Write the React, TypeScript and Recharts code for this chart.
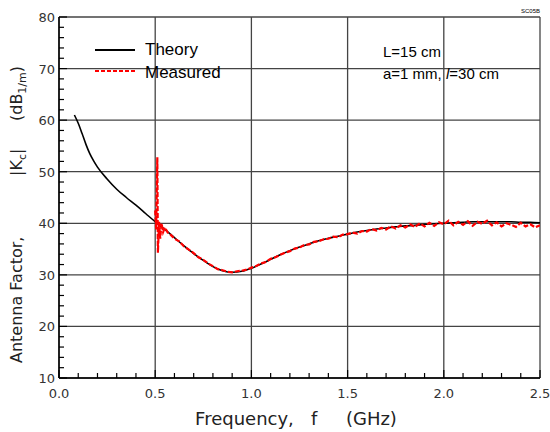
import React from 'react';
import { LineChart, Line, XAxis, YAxis, CartesianGrid } from 'recharts';

// ---------------------------------------------------------------------------
// Data
// ---------------------------------------------------------------------------

const theoryFreq = [
  0.08, 0.1, 0.12, 0.14, 0.16, 0.18, 0.2, 0.25, 0.3, 0.35, 0.4, 0.45, 0.5,
  0.55, 0.6, 0.65, 0.7, 0.75, 0.8, 0.85, 0.9, 0.95, 1.0, 1.05, 1.1, 1.15,
  1.2, 1.25, 1.3, 1.35, 1.4, 1.45, 1.5, 1.55, 1.6, 1.65, 1.7, 1.75, 1.8,
  1.85, 1.9, 1.95, 2.0, 2.05, 2.1, 2.15, 2.2, 2.25, 2.3, 2.35, 2.4, 2.45, 2.5,
];
const theoryK = [
  61.0, 59.4, 57.4, 55.3, 53.5, 52.1, 50.9, 48.6, 46.6, 45.0, 43.5, 41.9, 40.3,
  38.8, 37.2, 35.6, 34.1, 32.8, 31.6, 30.8, 30.5, 30.7, 31.3, 32.1, 33.0, 33.9,
  34.7, 35.4, 36.0, 36.6, 37.1, 37.5, 37.9, 38.3, 38.6, 38.9, 39.1, 39.3, 39.5,
  39.6, 39.8, 39.9, 40.0, 40.1, 40.2, 40.3, 40.3, 40.3, 40.3, 40.3, 40.2, 40.2, 40.1,
];

const measuredFreq = [
  0.5, 0.505, 0.511, 0.514, 0.52, 0.526, 0.533, 0.541, 0.55, 0.565, 0.58,
  0.6, 0.625, 0.65, 0.675, 0.7, 0.725, 0.75, 0.775, 0.8, 0.825, 0.85, 0.875,
  0.9, 0.925, 0.95, 0.975, 1.0, 1.025, 1.05, 1.075, 1.1, 1.125, 1.15, 1.175,
  1.2, 1.225, 1.25, 1.275, 1.3, 1.325, 1.35, 1.375, 1.4, 1.425, 1.45, 1.475,
  1.5, 1.525, 1.55, 1.575, 1.6, 1.625, 1.65, 1.675, 1.7, 1.725, 1.75, 1.775,
  1.8, 1.825, 1.85, 1.875, 1.9, 1.925, 1.95, 1.975, 2.0, 2.025, 2.05, 2.075,
  2.1, 2.125, 2.15, 2.175, 2.2, 2.225, 2.25, 2.275, 2.3, 2.325, 2.35, 2.375,
  2.4, 2.425, 2.45, 2.475, 2.5,
];
const measuredK = [
  42.5, 38.8, 52.8, 34.3, 40.3, 37.0, 40.0, 38.3, 39.2, 38.2, 37.8,
  37.0, 36.5, 35.5, 34.9, 34.2, 33.4, 32.9, 32.2, 31.7, 31.1, 30.9, 30.6,
  30.5, 30.7, 30.8, 31.0, 31.4, 31.7, 32.2, 32.5, 33.1, 33.4, 33.9, 34.3,
  34.6, 35.1, 35.3, 35.8, 35.9, 36.4, 36.5, 36.9, 37.0, 37.4, 37.3, 37.8,
  37.9, 38.2, 38.0, 38.5, 38.4, 38.9, 38.6, 39.1, 38.8, 39.4, 39.0, 39.6,
  39.2, 39.8, 39.3, 40.0, 39.4, 40.1, 39.5, 40.2, 39.8, 40.5, 39.6, 40.3,
  39.7, 40.4, 39.5, 40.3, 39.9, 40.5, 39.6, 40.2, 39.4, 40.0, 39.7, 39.3,
  40.1, 39.4, 39.8, 39.2, 39.6,
];

const xTicks = [
  0, 0.1, 0.2, 0.3, 0.4, 0.5, 0.6, 0.7, 0.8, 0.9, 1.0, 1.1, 1.2, 1.3, 1.4,
  1.5, 1.6, 1.7, 1.8, 1.9, 2.0, 2.1, 2.2, 2.3, 2.4, 2.5,
];
const xMajor = [0, 0.5, 1.0, 1.5, 2.0, 2.5];
const yTicks = [
  10, 12, 14, 16, 18, 20, 22, 24, 26, 28, 30, 32, 34, 36, 38, 40, 42, 44, 46,
  48, 50, 52, 54, 56, 58, 60, 62, 64, 66, 68, 70, 72, 74, 76, 78, 80,
];
const yMajor = [10, 20, 30, 40, 50, 60, 70, 80];

const theoryData = theoryFreq.map((f, i) => ({ f, k: theoryK[i] }));
const measuredData = measuredFreq.map((f, i) => ({ f, k: measuredK[i] }));

// ---------------------------------------------------------------------------
// Helpers
// ---------------------------------------------------------------------------

const TICK_FONT = '"DejaVu Sans", sans-serif';
const LABEL_FONT = '"Liberation Sans", Arial, sans-serif';

function isMajor(v: number, majors: number[]) {
  return majors.some((m) => Math.abs(m - v) < 1e-6);
}

/**
 * Inward pointing tick, with optional label
 */
function InTick(props: any) {
  const { x, y, payload, side } = props;
  const v = payload.value as number;
  const major = isMajor(v, side === 'left' || side === 'right' ? yMajor : xMajor);
  const len = major ? 8 : 5;
  const line = {
    bottom: [x, y, x, y - len],
    top: [x, y, x, y + len],
    left: [x, y, x + len, y],
    right: [x, y, x - len, y],
  }[side as string] as number[];

  return (
    <g>
      <line x1={line[0]} y1={line[1]} x2={line[2]} y2={line[3]} stroke="#000" strokeWidth={1.2} />
      {major && side === 'bottom' && (
        <text x={x} y={y + 20} textAnchor="middle" fontFamily={TICK_FONT} fontSize={13} fill="#333">
          {v.toFixed(1)}
        </text>
      )}
      {major && side === 'left' && (
        <text x={x - 4} y={y + 5} textAnchor="end" fontFamily={TICK_FONT} fontSize={13} fill="#333">
          {v}
        </text>
      )}
    </g>
  );
}

// ---------------------------------------------------------------------------
// Component
// ---------------------------------------------------------------------------

export default function App() {
  return (
    <div style={{ position: 'absolute', left: 0, top: 0, width: 550, height: 432, background: '#fff' }}>
      <LineChart
        width={550}
        height={432}
        margin={{ top: 17, right: 10, left: 0, bottom: 0 }}
      >
        <CartesianGrid
          stroke="#444"
          strokeWidth={1.3}
          horizontalValues={yMajor}
          verticalValues={xMajor}
        />
        <XAxis
          dataKey="f"
          type="number"
          domain={[0, 2.5]}
          ticks={xTicks}
          interval={0}
          height={54}
          tickSize={0}
          tickMargin={0}
          tickLine={false}
          axisLine={{ stroke: '#000', strokeWidth: 1.5 }}
          tick={<InTick side="bottom" />}
          allowDataOverflow
        />
        <XAxis
          xAxisId="t"
          orientation="top"
          dataKey="f"
          type="number"
          domain={[0, 2.5]}
          ticks={xTicks}
          interval={0}
          height={0}
          tickSize={0}
          tickMargin={0}
          tickLine={false}
          axisLine={{ stroke: '#000', strokeWidth: 1.5 }}
          tick={<InTick side="top" />}
        />
        <YAxis
          type="number"
          domain={[10, 80]}
          ticks={yTicks}
          interval={0}
          width={59}
          tickSize={0}
          tickMargin={0}
          tickLine={false}
          axisLine={{ stroke: '#000', strokeWidth: 1.5 }}
          tick={<InTick side="left" />}
          allowDataOverflow
        />
        <YAxis
          yAxisId="r"
          orientation="right"
          type="number"
          domain={[10, 80]}
          ticks={yTicks}
          interval={0}
          width={0}
          tickSize={0}
          tickMargin={0}
          tickLine={false}
          axisLine={{ stroke: '#000', strokeWidth: 1.5 }}
          tick={<InTick side="right" />}
        />
        <Line
          data={theoryData}
          dataKey="k"
          type="monotone"
          stroke="#000"
          strokeWidth={1.6}
          dot={false}
          isAnimationActive={false}
        />
        <Line
          data={measuredData}
          dataKey="k"
          type="linear"
          stroke="#ff0000"
          strokeWidth={2.2}
          strokeDasharray="5 2"
          dot={false}
          isAnimationActive={false}
        />
      </LineChart>

      {/* legend, annotations and axis titles */}
      <svg
        width={550}
        height={432}
        style={{ position: 'absolute', left: 0, top: 0, pointerEvents: 'none' }}
      >
        <line x1={95} y1={50} x2={135} y2={50} stroke="#000" strokeWidth={1.8} />
        <text x={145} y={55} fontFamily={LABEL_FONT} fontSize={17} fill="#000">Theory</text>
        <line x1={95} y1={71} x2={135} y2={71} stroke="#ff0000" strokeWidth={2} strokeDasharray="4 2" />
        <text x={145} y={78} fontFamily={LABEL_FONT} fontSize={17} fill="#000">Measured</text>

        <text x={383} y={57} fontFamily={LABEL_FONT} fontSize={15} fill="#000">L=15 cm</text>
        <text x={383} y={79} fontFamily={LABEL_FONT} fontSize={15} fill="#000">
          a=1 mm, <tspan fontStyle="italic">l</tspan>=30 cm
        </text>
        <text x={540} y={13} textAnchor="end" fontFamily={LABEL_FONT} fontSize={6} fill="#000">SC05B</text>

        <text x={296} y={425} textAnchor="middle" fontFamily={TICK_FONT} fontSize={18} fill="#222" xmlSpace="preserve">
          {'Frequency,   f     (GHz)'}
        </text>

        <text x={22} y={363} transform="rotate(-90 22 363)" fontFamily={TICK_FONT} fontSize={16} fill="#222">
          Antenna Factor,
        </text>
        <text x={22} y={176} transform="rotate(-90 22 176)" fontFamily={TICK_FONT} fontSize={16} fill="#222">
          |K<tspan fontSize={11} dy={4}>c</tspan><tspan dy={-4}>|</tspan>
        </text>
        <text x={22} y={121} transform="rotate(-90 22 121)" fontFamily={TICK_FONT} fontSize={16} fill="#222">
          (dB<tspan fontSize={11} dy={4}>1/m</tspan><tspan dy={-4}>)</tspan>
        </text>
      </svg>
    </div>
  );
}
